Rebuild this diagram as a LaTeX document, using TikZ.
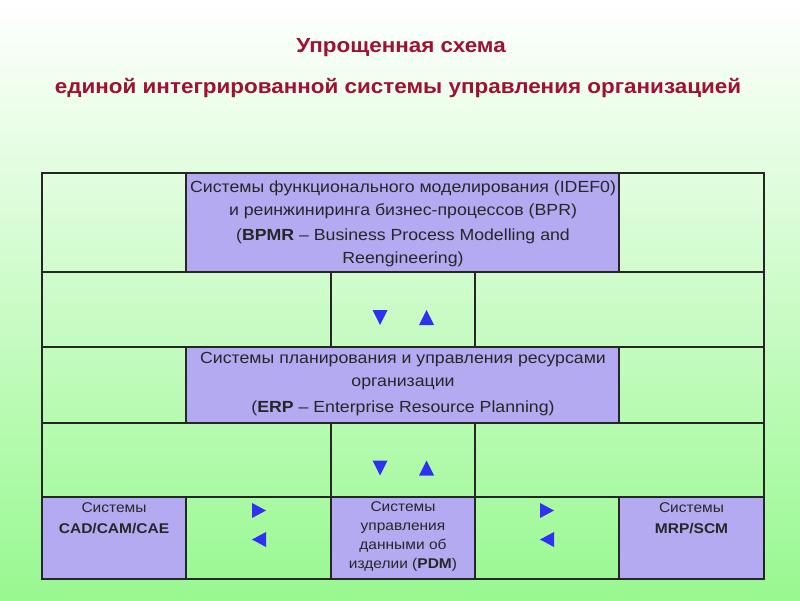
\documentclass[tikz,border=0pt]{standalone}
\usepackage{fontspec}
\setmainfont{Liberation Sans}[FakeStretch=1.1]
\usetikzlibrary{positioning}
\definecolor{titleC}{HTML}{A01030}
\definecolor{cellC}{HTML}{B4AAF2}
\definecolor{bgC}{HTML}{98F890}
\definecolor{arrC}{HTML}{3030F0}
\definecolor{lineC}{HTML}{262626}

\begin{document}
\begin{tikzpicture}[x=1pt,y=-1pt,
  txt/.style={align=center,font=\fontsize{16.1}{23.5}\selectfont,text=black!85,inner sep=0pt},
  small/.style={align=center,font=\fontsize{14.1}{19}\selectfont,text=black!85,inner sep=0pt},
  grid/.style={lineC,line width=1.2pt}]
  \useasboundingbox (0,0) rectangle (800,600);
  % background
  \shade[top color=white,bottom color=bgC] (0,0) rectangle (800,600);

  % title
  \node[titleC,font=\fontsize{20.4}{24}\selectfont\bfseries] (title1) at (401,48) {Упрощенная схема};
  \node[titleC,font=\fontsize{20.4}{24}\selectfont\bfseries] (title2) at (398,88) {единой интегрированной системы управления организацией};

  % purple cells
  \fill[cellC] (186,173) rectangle (619,272);
  \fill[cellC] (186,347) rectangle (619,423);
  \foreach \a/\b in {42/186,331/475,619/764}
    \fill[cellC] (\a,497) rectangle (\b,579);

  % grid lines
  \foreach \y in {272,347,423,497} \draw[grid] (42,\y) -- (764,\y);
  \foreach \x in {186,619}{
    \draw[grid] (\x,173) -- (\x,272);
    \draw[grid] (\x,347) -- (\x,423);
  }
  \foreach \x in {331,475}{
    \draw[grid] (\x,272) -- (\x,347);
    \draw[grid] (\x,423) -- (\x,497);
  }
  \foreach \x in {186,331,475,619} \draw[grid] (\x,497) -- (\x,579);
  \draw[lineC,line width=2pt] (42,173) rectangle (764,579);

  % up / down triangles
  \foreach \y in {317.5,468}{
    \fill[arrC] (372.5,\y-7.5) -- (387.5,\y-7.5) -- (380,\y+7.5) -- cycle;
    \fill[arrC] (419,\y+7.5) -- (434,\y+7.5) -- (426.5,\y-7.5) -- cycle;
  }
  % left / right triangles
  \foreach \x in {259,547}{
    \fill[arrC] (\x-7,503) -- (\x-7,518) -- (\x+7,510.5) -- cycle;
    \fill[arrC] (\x+7,532) -- (\x+7,547) -- (\x-7,539.5) -- cycle;
  }

  % cell texts
  \node[txt] (bpmr) at (403,224) {Системы функционального моделирования (IDEF0)\\
    и реинжиниринга бизнес-процессов (BPR)\\[1pt]
    (\textbf{BPMR} -- Business Process Modelling and\\ Reengineering)};
  \node[txt] (erp) at (403,384) {Системы планирования и управления ресурсами\\
    организации\\[2pt] (\textbf{ERP} -- Enterprise Resource Planning)};
  \node[small] (cad) at (114,518.5) {Системы\\[2pt] \textbf{CAD/CAM/CAE}};
  \node[small] (pdm) at (403,537) {Системы\\ управления\\ данными об\\ изделии (\textbf{PDM})};
  \node[small] (mrp) at (691.5,518.5) {Системы\\[2pt] \textbf{MRP/SCM}};
\end{tikzpicture}
\end{document}
